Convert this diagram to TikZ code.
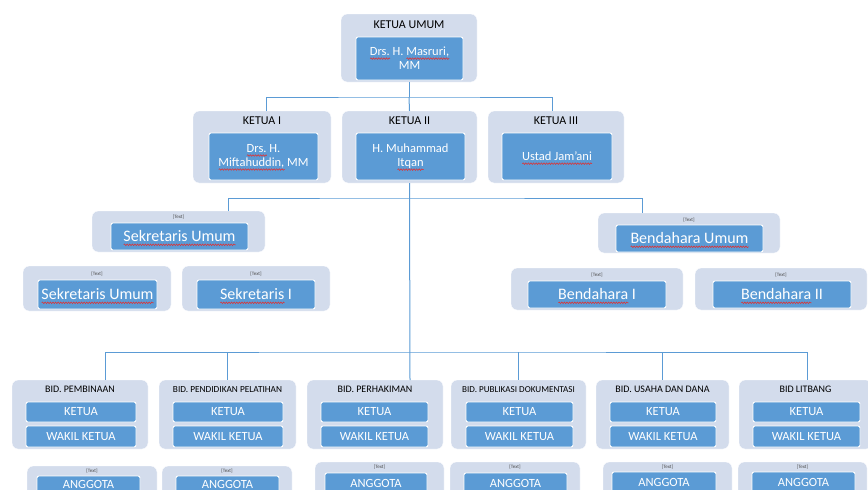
\documentclass[tikz,border=0pt]{standalone}
\usepackage{fontspec}
\setmainfont{Carlito}
\usetikzlibrary{decorations.pathmorphing}
\definecolor{outerc}{HTML}{D3DCEC}
\definecolor{innerc}{HTML}{5B9BD5}
\definecolor{linec}{HTML}{5B9BD5}
\definecolor{squigc}{HTML}{E03030}
\tikzset{
  outerbox/.style={fill=outerc, draw=white, line width=0.4pt, rounded corners=6pt, inner sep=0pt},
  innerbox/.style={fill=innerc, draw=white, line width=0.9pt, rounded corners=2pt, inner sep=0pt, text=white, align=center},
  conn/.style={draw=linec, line width=1pt},
  lbl/.style={inner sep=0pt, anchor=base, font=\fontsize{12}{14}\selectfont},
  tinylbl/.style={inner sep=0pt, anchor=base, text=black!70, font=\fontsize{5}{6}\selectfont},
  bidlbl/.style={inner sep=0pt, anchor=base, font=\fontsize{10}{12}\selectfont},
  namef/.style={font=\fontsize{12.5}{14}\selectfont},
  bigf/.style={font=\fontsize{16}{18}\selectfont},
  sqline/.style={draw=squigc, fill=none, line width=0.55pt, rounded corners=0pt, decorate, decoration={snake, amplitude=0.8pt, segment length=2.6pt}},
}
\newsavebox\sqbox
\newcommand\sqw[1]{\sbox\sqbox{#1}\rlap{\smash{\raisebox{-2.8pt}{\tikz[baseline=0pt]\draw[sqline] (0pt,0pt) -- (\wd\sqbox,0pt);}}}\usebox\sqbox}
% name, style, x1, y1, x2, y2, text
\newcommand\mkbox[7]{\node[#2, minimum width={(#5-#3)*1pt}, minimum height={(#6-#4)*1pt}] (#1) at ({(#3+#5)/2},{(#4+#6)/2}) {#7};}
% bid: name, x1, x2, ix1, ix2, label
\newcommand\mkbid[6]{%
  \mkbox{#1}{outerbox}{#2}{380}{#3}{449}{}
  \node[bidlbl] (#1l) at ({(#2+#3)/2},392) {#6};
  \mkbox{#1k}{innerbox,namef}{#4}{402}{#5}{422}{KETUA}
  \mkbox{#1w}{innerbox,namef}{#4}{426}{#5}{447}{WAKIL KETUA}
}
% anggota: name, ox1, oy1, ox2, ix1, ix2, iy1
\newcommand\mkang[7]{%
  \mkbox{#1}{outerbox}{#2}{#3}{#4}{505}{}
  \node[tinylbl] (#1t) at ({(#2+#4)/2},{#3+6.5}) {[Text]};
  \mkbox{#1i}{innerbox}{#5}{#7}{#6}{503}{}
  \node[inner sep=0pt, anchor=base, text=white, namef] (#1n) at ({(#5+#6)/2},{min(#7+14,488.5)}) {ANGGOTA};
}
\begin{document}
\begin{tikzpicture}[x=1pt,y=-1pt]
\useasboundingbox (0,0) rectangle (868,490);
\clip (0,0) rectangle (868,490);

% ---- top
\mkbox{ou0}{outerbox}{341}{14}{477}{82}{}
\node[lbl] (ou0l) at (409,28) {KETUA UMUM};
\mkbox{in0}{innerbox,namef}{356}{37}{463}{80}{\sqw{Drs.} H. \sqw{Masruri,}\\MM}

% ---- ketua row
\mkbox{ou1}{outerbox}{193}{111}{331}{183}{}
\node[lbl] (ou1l) at (262,124) {KETUA I};
\mkbox{in1}{innerbox,namef}{209}{133}{318}{180}{\sqw{Drs.} H.\\\sqw{Miftahuddin,} MM}
\mkbox{ou2}{outerbox}{342}{111}{477}{183}{}
\node[lbl] (ou2l) at (409.5,124) {KETUA II};
\mkbox{in2}{innerbox,namef}{356}{133}{465}{180}{H. Muhammad\\\sqw{Itqan}}
\mkbox{ou3}{outerbox}{488}{111}{624}{183}{}
\node[lbl] (ou3l) at (556,124) {KETUA III};
\mkbox{in3}{innerbox,namef}{502}{133}{612}{180}{\sqw{Ustad Jam’ani}}

% ---- sekretaris
\mkbox{sekU}{outerbox}{92}{211}{265}{252}{}
\node[tinylbl] (sekUt) at (178.5,218) {[Text]};
\mkbox{sekUi}{innerbox,bigf}{111}{223}{248}{250}{\sqw{Sekretaris Umum}}
\mkbox{sekA}{outerbox}{23}{266}{171}{311}{}
\node[tinylbl] (sekAt) at (97,275) {[Text]};
\mkbox{sekAi}{innerbox,bigf}{38}{280}{157}{309}{\sqw{Sekretaris Umum}}
\mkbox{sekB}{outerbox}{182}{266}{330}{311}{}
\node[tinylbl] (sekBt) at (256,275) {[Text]};
\mkbox{sekBi}{innerbox,bigf}{197}{280}{315}{309}{\sqw{Sekretaris} I}

% ---- bendahara
\mkbox{benU}{outerbox}{598}{213}{780}{253}{}
\node[tinylbl] (benUt) at (689,221) {[Text]};
\mkbox{benUi}{innerbox,bigf}{616}{225}{763}{252}{\sqw{Bendahara Umum}}
\mkbox{benA}{outerbox}{511}{268}{683}{310}{}
\node[tinylbl] (benAt) at (597,276) {[Text]};
\mkbox{benAi}{innerbox,bigf}{528}{281}{666}{308}{\sqw{Bendahara} I}
\mkbox{benB}{outerbox}{695}{268}{867}{310}{}
\node[tinylbl] (benBt) at (781,276) {[Text]};
\mkbox{benBi}{innerbox,bigf}{713}{281}{851}{308}{\sqw{Bendahara} II}

% ---- bidang
\mkbid{bA}{12}{148}{26}{136}{BID. PEMBINAAN}
\mkbid{bB}{159}{296}{173}{283}{\fontsize{9.3}{11}\selectfont BID. PENDIDIKAN PELATIHAN}
\mkbid{bC}{307}{443}{321}{428}{BID. PERHAKIMAN}
\mkbid{bD}{451}{586}{466}{573}{\fontsize{9.1}{11}\selectfont BID. PUBLIKASI DOKUMENTASI}
\mkbid{bE}{596}{729}{610}{716}{BID. USAHA DAN DANA}
\mkbid{bF}{739}{872}{753}{860}{BID LITBANG}

% ---- anggota
\mkang{aA}{27}{466}{157}{37}{140}{476}
\mkang{aB}{162}{466}{292}{176}{279}{476}
\mkang{aC}{315}{462}{444}{325}{427}{473}
\mkang{aD}{450}{462}{580}{464}{567}{473}
\mkang{aE}{603}{462}{732}{612}{716}{472}
\mkang{aF}{738}{462}{867}{752}{855}{472}

% ---- connectors
\coordinate (bus1) at (409,97);
\coordinate (k1top) at (266,111);
\coordinate (k3top) at (552,111);
\coordinate (bus2) at (409,198);
\coordinate (s1top) at (228,211);
\coordinate (s2top) at (642,213);
\coordinate (bus3) at (409,352);
\coordinate (bAtop) at (105,380);
\coordinate (bCtop) at (410,380);
\coordinate (bFtop) at (807,380);

\draw[conn] (ou0.south) -- (bus1);
\draw[conn] (k1top) |- (bus1) -| (k3top);
\draw[conn] (bus1) -- (ou2.north);
\draw[conn] (ou2.south) -- (bCtop);
\draw[conn] (s1top) |- (bus2) -| (s2top);
\draw[conn] (bAtop) |- (bus3) -| (bFtop);
\draw[conn] (bB.north) -- (bB.north |- bus3);
\draw[conn] (bD.north) -- (bD.north |- bus3);
\draw[conn] (bE.north) -- (bE.north |- bus3);
\end{tikzpicture}
\end{document}
